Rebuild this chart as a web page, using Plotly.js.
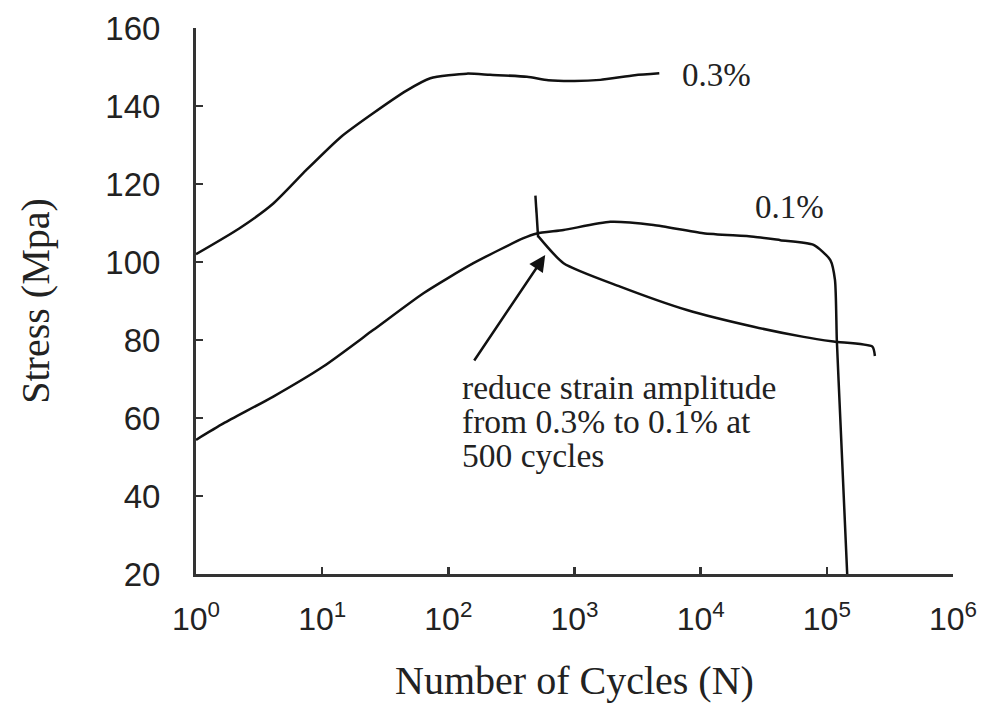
<!DOCTYPE html>
<html>
<head>
<meta charset="utf-8">
<script src="https://cdn.plot.ly/plotly-3.0.1.min.js"></script>
<style>html,body{margin:0;padding:0;background:#fff;}#chart{width:982px;height:712px;}</style>
</head>
<body>
<div id="chart"></div>
<script>
// Curve at 0.3% strain amplitude
const cyc03 = [1, 2.2, 4.1, 7.5, 14, 25, 47, 72, 140, 214, 420, 620, 1000, 1600, 3000, 4700];
const str03 = [102, 108.6, 115, 123.6, 132, 138, 144, 147.1, 148.3, 148, 147.5, 146.6, 146.4, 146.7, 147.9, 148.4];

// Curve at 0.1% strain amplitude
const cyc01 = [1, 1.65, 4.1, 10.2, 25.5, 63.5, 158, 394, 503, 819, 1920, 4230, 10500, 26300, 42800, 78500, 106600, 116000, 120000, 128000, 145000];
const str01 = [54.4, 58.6, 65.5, 73.2, 82.6, 92, 99.7, 106.1, 107.3, 108.2, 110.3, 109.5, 107.4, 106.5, 105.6, 104.4, 100.5, 95.4, 80, 59.5, 20];

// After reducing strain amplitude from 0.3% to 0.1% at 500 cycles
const cycRed = [519, 819, 2300, 7780, 26300, 65500, 113000, 229600, 240400];
const strRed = [106.5, 99.7, 93.7, 87.7, 83.4, 80.8, 79.6, 78.3, 75.9];

// Short marker segment at the switch point
const cycSwitch = [490, 515];
const strSwitch = [117, 106.3];

// Axis ticks
const xTickVals = [1, 10, 100, 1000, 10000, 100000, 1000000];
const xTickText = ['10<sup>0</sup>', '10<sup>1</sup>', '10<sup>2</sup>', '10<sup>3</sup>', '10<sup>4</sup>', '10<sup>5</sup>', '10<sup>6</sup>'];
const yTickVals = [20, 40, 60, 80, 100, 120, 140, 160];

// Text labels
const labels = [
  {text: '0.3%', N: 6890, S: 147.9},
  {text: '0.1%', N: 26100, S: 114.1}
];
const noteLines = ['reduce strain amplitude', 'from 0.3% to 0.1% at', '500 cycles'];
const noteY = [67.9, 59.0, 50.3];
const noteN = 124;
const arrowTip = {N: 586, S: 101.8};

const smooth = {color: '#111', width: 2.5, shape: 'spline', smoothing: 0.6};
const straight = {color: '#111', width: 2.5};
const traces = [
  {x: cyc03, y: str03, mode: 'lines', line: smooth, name: '0.3%'},
  {x: cyc01, y: str01, mode: 'lines', line: smooth, name: '0.1%'},
  {x: cycRed, y: strRed, mode: 'lines', line: smooth, name: 'reduced'},
  {x: cycSwitch, y: strSwitch, mode: 'lines', line: straight, name: 'switch'}
];

const serif = 'Liberation Serif, Times New Roman, serif';
const sans = 'Liberation Sans, Arial, sans-serif';

const annotations = [];
labels.forEach(l => annotations.push({
  x: Math.log10(l.N), y: l.S, xref: 'x', yref: 'y', text: l.text, showarrow: false,
  xanchor: 'left', yanchor: 'middle', font: {family: serif, size: 33, color: '#222'}
}));
noteLines.forEach((t, i) => annotations.push({
  x: Math.log10(noteN), y: noteY[i], xref: 'x', yref: 'y', text: t, showarrow: false,
  xanchor: 'left', yanchor: 'middle', font: {family: serif, size: 33.5, color: '#222'}
}));
annotations.push({
  x: Math.log10(arrowTip.N), y: arrowTip.S, xref: 'x', yref: 'y', text: '',
  showarrow: true, arrowhead: 2, arrowsize: 1.3, arrowwidth: 2.5, arrowcolor: '#111',
  ax: -72, ay: 107
});

const layout = {
  width: 982, height: 712,
  margin: {l: 196, r: 29, t: 28, b: 138},
  paper_bgcolor: '#fff', plot_bgcolor: '#fff',
  showlegend: false,
  xaxis: {
    type: 'log', range: [0, 6],
    tickmode: 'array', tickvals: xTickVals, ticktext: xTickText,
    ticks: 'inside', ticklen: 7, tickwidth: 2.5, tickcolor: '#333',
    showline: true, linewidth: 3, linecolor: '#333',
    showgrid: false, zeroline: false,
    tickfont: {family: sans, size: 32, color: '#222'},
    ticklabelstandoff: 15,
    title: {text: 'Number of Cycles (N)', font: {family: serif, size: 40, color: '#222'}, standoff: 30}
  },
  yaxis: {
    range: [20, 160],
    tickmode: 'array', tickvals: yTickVals,
    ticks: 'inside', ticklen: 7, tickwidth: 2.5, tickcolor: '#333',
    showline: true, linewidth: 3, linecolor: '#333',
    showgrid: false, zeroline: false,
    tickfont: {family: sans, size: 33, color: '#222'},
    ticklabelstandoff: 26,
    title: {text: 'Stress (Mpa)', font: {family: serif, size: 40, color: '#222'}, standoff: 44}
  },
  annotations: annotations
};

Plotly.newPlot('chart', traces, layout, {displayModeBar: false, staticPlot: true});
</script>
</body>
</html>
